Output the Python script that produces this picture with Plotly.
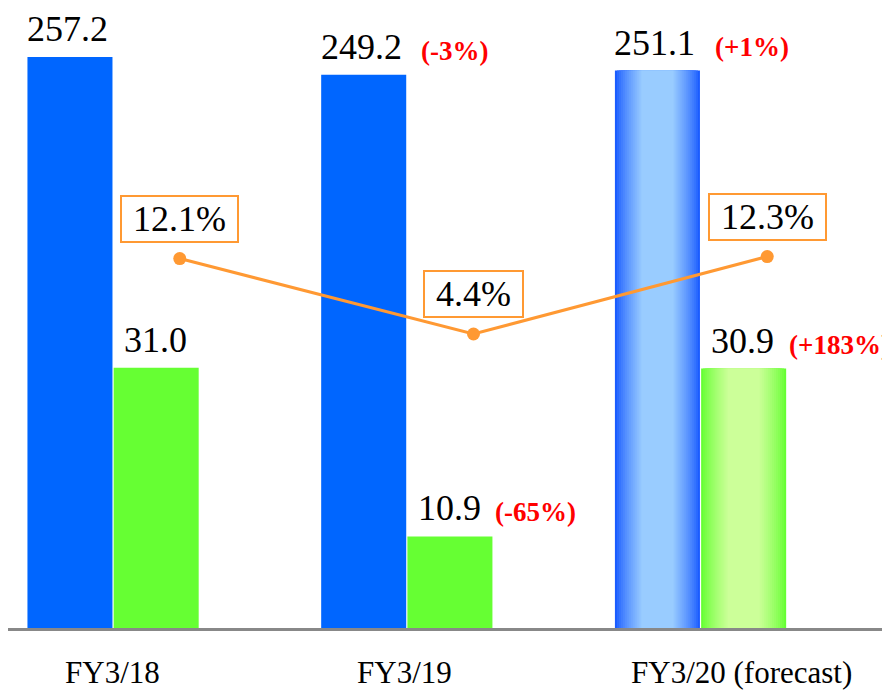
import plotly.graph_objects as go

categories = ["FY3/18", "FY3/19", "FY3/20 (forecast)"]
sales = [257.2, 249.2, 251.1]
profit = [31.0, 10.9, 30.9]
margin = [12.1, 4.4, 12.3]
sales_change = ["", "(-3%)", "(+1%)"]
profit_change = ["", "(-65%)", "(+183%)"]

BLUE = "#0066FF"
BLUE_EDGE = (26, 92, 255)
BLUE_MID = (153, 204, 255)
GREEN = "#66FF33"
GREEN_EDGE = (102, 255, 51)
GREEN_MID = (204, 255, 153)
ORANGE = "#FF9933"
SERIF = "Liberation Serif"

W = 0.2895  # bar width (category units)
XR = [-0.3557, 2.647]
LINE_SHIFT = 0.229


def rgb(c):
    return "rgb(%d,%d,%d)" % c


fig = go.Figure()

# main bars
fig.add_trace(go.Bar(x=categories, y=sales, width=W, offset=-W,
                     marker=dict(color=[BLUE, BLUE, rgb(BLUE_EDGE)], line=dict(width=0)),
                     xaxis="x", yaxis="y", showlegend=False, hoverinfo="skip"))
fig.add_trace(go.Bar(x=categories, y=profit, width=W, offset=0.004,
                     marker=dict(color=[GREEN, GREEN, rgb(GREEN_EDGE)], line=dict(width=0)),
                     xaxis="x", yaxis="y2", showlegend=False, hoverinfo="skip"))

# gradient overlay layers for the forecast bars
N = 14
for k in range(1, N):
    frac = 1 - (k / (N - 1)) * 0.62
    t = (k / (N - 1)) ** 0.8
    cb = tuple(int(BLUE_EDGE[i] + (BLUE_MID[i] - BLUE_EDGE[i]) * t) for i in range(3))
    cg = tuple(int(GREEN_EDGE[i] + (GREEN_MID[i] - GREEN_EDGE[i]) * t) for i in range(3))
    w = W * frac
    fig.add_trace(go.Bar(x=[categories[2]], y=[sales[2]], width=w, offset=-W / 2 - w / 2,
                         marker=dict(color=rgb(cb), line=dict(width=0)),
                         xaxis="x", yaxis="y", showlegend=False, hoverinfo="skip"))
    fig.add_trace(go.Bar(x=[categories[2]], y=[profit[2]], width=w, offset=0.004 + W / 2 - w / 2,
                         marker=dict(color=rgb(cg), line=dict(width=0)),
                         xaxis="x", yaxis="y2", showlegend=False, hoverinfo="skip"))

# margin line
fig.add_trace(go.Scatter(x=categories, y=margin, mode="lines+markers",
                         line=dict(color=ORANGE, width=3),
                         marker=dict(color=ORANGE, size=13),
                         xaxis="x2", yaxis="y3", showlegend=False, hoverinfo="skip"))

annotations = []
for i, c in enumerate(categories):
    annotations.append(dict(x=c, y=sales[i], xref="x", yref="y", text=f"{sales[i]:.1f}",
                            showarrow=False, xanchor="center", yanchor="bottom",
                            xshift=-45, yshift=6, font=dict(family=SERIF, size=36, color="black")))
    annotations.append(dict(x=c, y=profit[i], xref="x", yref="y2", text=f"{profit[i]:.1f}",
                            showarrow=False, xanchor="center", yanchor="bottom",
                            xshift=43, yshift=6, font=dict(family=SERIF, size=36, color="black")))
    if sales_change[i]:
        annotations.append(dict(x=c, y=sales[i], xref="x", yref="y", text=f"<b>{sales_change[i]}</b>",
                                showarrow=False, xanchor="left", yanchor="bottom",
                                xshift=13, yshift=7, font=dict(family=SERIF, size=27, color="#FF0000")))
    if profit_change[i]:
        annotations.append(dict(x=c, y=profit[i], xref="x", yref="y2", text=f"<b>{profit_change[i]}</b>",
                                showarrow=False, xanchor="left", yanchor="bottom",
                                xshift=87, yshift=7, font=dict(family=SERIF, size=27, color="#FF0000")))
    annotations.append(dict(x=c, y=margin[i], xref="x2", yref="y3", text=f"&nbsp;{margin[i]:.1f}%&nbsp;",
                            showarrow=False, xanchor="center", yanchor="middle", yshift=40,
                            bgcolor="white", bordercolor=ORANGE, borderwidth=2, borderpad=2,
                            font=dict(family=SERIF, size=36, color="black")))

label_shift = [0, -2, 42]
for i, c in enumerate(categories):
    annotations.append(dict(x=c, y=-0.072, xref="x", yref="paper", text=c, showarrow=False,
                            xanchor="center", yanchor="middle", xshift=label_shift[i],
                            font=dict(family=SERIF, size=31, color="black")))

fig.update_layout(
    font=dict(family=SERIF, color="black"),
    width=882, height=682,
    margin=dict(l=0, r=0, t=2, b=62),
    paper_bgcolor="white", plot_bgcolor="white",
    barmode="overlay",
    xaxis=dict(range=XR, showticklabels=False, ticks="", showgrid=False, zeroline=False,
               showline=True, linecolor="#888888", linewidth=3),
    xaxis2=dict(range=[XR[0] - LINE_SHIFT, XR[1] - LINE_SHIFT], overlaying="x",
                visible=False, type="category", categoryorder="array", categoryarray=categories),
    yaxis=dict(range=[0, 278.4], visible=False),
    yaxis2=dict(range=[0, 73.6], overlaying="y", visible=False),
    yaxis3=dict(range=[-25.6, 37.46], overlaying="y", visible=False),
    annotations=annotations,
)

fig.write_html("out.html")
